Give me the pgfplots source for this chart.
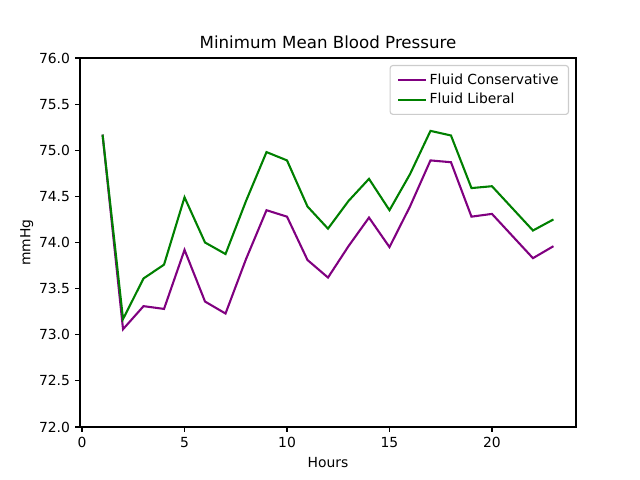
\documentclass[border=0pt]{standalone}
\usepackage{fontspec}
\setmainfont{DejaVu Sans}
\usepackage{pgfplots}
\pgfplotsset{compat=1.18}

\definecolor{mplpurple}{RGB}{128,0,128}
\definecolor{mplgreen}{RGB}{0,128,0}

\begin{document}
\begin{tikzpicture}
\begin{axis}[
    at={(0,0)}, anchor=south west,
    scale only axis,
    width=357.12pt, height=265.68pt,
    xmin=-0.1, xmax=24.1,
    ymin=72, ymax=76,
    xtick={0,5,10,15,20},
    ytick={72,72.5,...,76},
    yticklabel style={/pgf/number format/.cd, fixed, fixed zerofill, precision=1},
    /pgf/number format/assume math mode=true,
    tick align=outside,
    tick pos=left,
    major tick length=3.5pt,
    tick style={line width=0.8pt, black},
    axis line style={line width=0.8pt},
    every axis/.append style={line width=0.8pt},
    ticklabel style={font=\fontsize{10}{12}\selectfont},
    title={Minimum Mean Blood Pressure},
    title style={font=\fontsize{12}{14}\selectfont, yshift=-3pt},
    xlabel={Hours},
    ylabel={mmHg},
    ylabel style={yshift=-3pt},
    label style={font=\fontsize{10}{12}\selectfont},
    legend cell align=left,
    legend style={
        at={(1,1)}, anchor=north east, xshift=-5pt, yshift=-5pt,
        draw=black!20, rounded corners=2pt, fill=white, fill opacity=0.8,
        text opacity=1, font=\fontsize{10}{12}\selectfont,
        inner xsep=5pt, inner ysep=4pt, row sep=1pt,
    },
    legend image code/.code={\draw[#1] (0pt,0pt) -- (20pt,0pt);},
]
\addplot[mplpurple, line width=1.5pt] coordinates {
(1,75.17) (2,73.06) (3,73.31) (4,73.28) (5,73.92) (6,73.36) (7,73.23)
(8,73.82) (9,74.35) (10,74.28) (11,73.81) (12,73.62) (13,73.96)
(14,74.27) (15,73.95) (16,74.39) (17,74.89) (18,74.87) (19,74.28)
(20,74.31) (21,74.07) (22,73.83) (23,73.96)
};
\addlegendentry{Fluid Conservative}
\addplot[mplgreen, line width=1.5pt] coordinates {
(1,75.17) (2,73.17) (3,73.61) (4,73.76) (5,74.49) (6,74.00) (7,73.875)
(8,74.45) (9,74.98) (10,74.89) (11,74.39) (12,74.15) (13,74.45)
(14,74.69) (15,74.35) (16,74.74) (17,75.21) (18,75.16) (19,74.59)
(20,74.61) (21,74.37) (22,74.13) (23,74.25)
};
\addlegendentry{Fluid Liberal}
\end{axis}
\pgfresetboundingbox
\path (-57.6pt,-38.16pt) rectangle (403.2pt,307.44pt);
\end{tikzpicture}
\end{document}
